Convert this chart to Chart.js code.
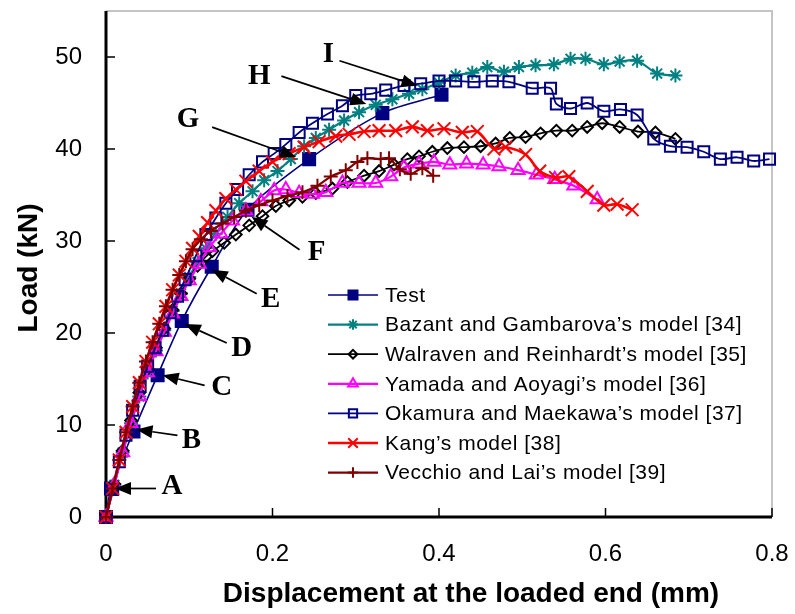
<!DOCTYPE html>
<html>
<head>
<meta charset="utf-8">
<script src="https://cdn.jsdelivr.net/npm/chart.js@4.4.1/dist/chart.umd.min.js"></script>
<style>
  html, body { margin: 0; padding: 0; background: #fff; }
  #wrap { width: 795px; height: 614px; }
</style>
</head>
<body>
<div id="wrap"><canvas id="chart" width="795" height="614"></canvas></div>
<script>
// tick labels
const xTicks = [0, 0.2, 0.4, 0.6, 0.8];
const yTicks = [0, 10, 20, 30, 40, 50];

// Test (A..I)
const testX = [0, 0.006, 0.033, 0.062, 0.091, 0.127, 0.170, 0.244, 0.332, 0.403];
const testY = [0, 3.1, 9.3, 15.4, 21.3, 27.2, 33.4, 38.9, 43.9, 45.9];

// Bazant and Gambarova
const bazantX = [0, 0.01, 0.02, 0.03, 0.04, 0.05, 0.06, 0.07, 0.08, 0.09, 0.1, 0.11, 0.12, 0.132, 0.146, 0.16, 0.176, 0.19, 0.206, 0.222, 0.238, 0.252, 0.268, 0.286, 0.304, 0.324, 0.344, 0.364, 0.38, 0.4, 0.42, 0.44, 0.458, 0.478, 0.496, 0.516, 0.538, 0.558, 0.576, 0.598, 0.617, 0.638, 0.662, 0.684];
const bazantY = [0, 3.5, 7.0, 10.2, 13.1, 15.7, 18.1, 20.3, 22.4, 24.3, 26.1, 27.7, 29.2, 30.8, 32.6, 34.1, 35.4, 36.6, 37.6, 38.9, 40.3, 41.2, 42.1, 43.1, 44.0, 44.8, 45.4, 46.0, 46.5, 47.2, 48.0, 48.3, 48.9, 48.4, 48.9, 49.1, 49.2, 49.8, 49.8, 49.2, 49.5, 49.6, 48.2, 48.0];

// Walraven and Reinhardt
const walravenX = [0, 0.01, 0.02, 0.03, 0.04, 0.05, 0.06, 0.07, 0.08, 0.09, 0.1, 0.11, 0.12, 0.128, 0.142, 0.156, 0.172, 0.188, 0.204, 0.22, 0.236, 0.252, 0.272, 0.29, 0.31, 0.328, 0.346, 0.362, 0.376, 0.392, 0.41, 0.43, 0.45, 0.468, 0.485, 0.504, 0.522, 0.541, 0.56, 0.578, 0.596, 0.617, 0.639, 0.66, 0.684];
const walravenY = [0, 3.6, 7.2, 10.5, 13.5, 16.1, 18.4, 20.5, 22.5, 24.3, 25.9, 27.3, 28.3, 28.9, 29.8, 30.7, 31.7, 32.7, 33.8, 34.4, 34.8, 35.2, 35.7, 36.4, 37.1, 37.6, 38.3, 38.9, 39.2, 39.7, 40.1, 40.2, 40.3, 40.6, 41.2, 41.3, 41.7, 42.0, 42.0, 42.4, 42.8, 42.4, 41.9, 41.8, 41.1];

// Yamada and Aoyagi
const yamadaX = [0, 0.01, 0.02, 0.03, 0.04, 0.05, 0.06, 0.07, 0.08, 0.09, 0.1, 0.112, 0.124, 0.138, 0.152, 0.168, 0.186, 0.202, 0.216, 0.232, 0.248, 0.264, 0.284, 0.304, 0.324, 0.342, 0.358, 0.376, 0.394, 0.413, 0.433, 0.453, 0.472, 0.495, 0.517, 0.539, 0.562, 0.59];
const yamadaY = [0, 3.5, 7.0, 10.2, 13.1, 15.7, 18.0, 20.1, 22.1, 24.0, 25.7, 27.5, 29.3, 30.8, 32.2, 33.3, 34.3, 35.5, 35.6, 35.2, 35.1, 35.3, 36.3, 36.3, 36.3, 37.0, 38.0, 38.4, 38.6, 38.3, 38.4, 38.3, 38.1, 37.7, 37.2, 36.7, 36.0, 34.5];

// Okamura and Maekawa
const okamuraX = [0, 0.008, 0.016, 0.024, 0.032, 0.041, 0.05, 0.059, 0.068, 0.077, 0.086, 0.095, 0.108, 0.12, 0.132, 0.144, 0.158, 0.172, 0.188, 0.202, 0.216, 0.232, 0.248, 0.266, 0.284, 0.3, 0.318, 0.336, 0.358, 0.378, 0.4, 0.42, 0.442, 0.464, 0.484, 0.512, 0.534, 0.541, 0.558, 0.578, 0.598, 0.618, 0.638, 0.658, 0.678, 0.698, 0.718, 0.738, 0.758, 0.778, 0.797];
const okamuraY = [0, 3.0, 6.0, 8.9, 11.6, 14.2, 16.4, 18.4, 20.3, 22.2, 24.0, 25.8, 28.4, 30.7, 32.5, 34.1, 35.6, 37.2, 38.6, 39.5, 40.5, 41.8, 42.8, 43.8, 44.7, 45.8, 46.0, 46.4, 46.9, 47.1, 47.4, 47.4, 47.3, 47.4, 47.3, 46.6, 46.6, 44.9, 44.4, 45.0, 44.1, 44.3, 43.7, 41.1, 40.3, 40.2, 39.7, 38.9, 39.1, 38.7, 38.9];

// Kang
const kangX = [0, 0.008, 0.016, 0.024, 0.032, 0.04, 0.048, 0.056, 0.064, 0.072, 0.08, 0.088, 0.096, 0.104, 0.112, 0.122, 0.132, 0.144, 0.156, 0.168, 0.184, 0.2, 0.22, 0.238, 0.256, 0.276, 0.292, 0.31, 0.328, 0.348, 0.368, 0.386, 0.406, 0.428, 0.446, 0.466, 0.48, 0.504, 0.521, 0.54, 0.556, 0.578, 0.598, 0.614, 0.632];
const kangY = [0, 3.1, 6.2, 9.2, 12.0, 14.6, 16.9, 19.0, 21.0, 22.9, 24.7, 26.3, 27.8, 29.2, 30.5, 32.0, 33.3, 34.6, 35.6, 36.5, 37.6, 38.6, 39.5, 40.2, 40.8, 41.4, 41.6, 41.9, 42.0, 42.0, 42.4, 42.0, 42.2, 41.8, 41.9, 40.0, 40.2, 39.4, 37.6, 36.9, 37.0, 35.4, 33.9, 34.0, 33.4];

// Vecchio and Lai
const vecchioX = [0, 0.008, 0.016, 0.024, 0.032, 0.04, 0.048, 0.056, 0.064, 0.072, 0.08, 0.088, 0.096, 0.104, 0.114, 0.126, 0.14, 0.154, 0.168, 0.184, 0.2, 0.218, 0.236, 0.254, 0.27, 0.288, 0.302, 0.314, 0.33, 0.34, 0.353, 0.366, 0.38, 0.393];
const vecchioY = [0, 3.1, 6.2, 9.2, 12.0, 14.6, 16.9, 19.0, 21.0, 22.9, 24.7, 26.3, 27.8, 29.1, 30.2, 31.1, 31.9, 32.6, 33.3, 33.9, 34.4, 34.9, 35.3, 36.0, 37.0, 37.7, 38.6, 39.0, 38.9, 39.0, 37.8, 37.3, 37.9, 37.1];

// labels on the Test curve (points 1..9)
const noteLabels = ['A', 'B', 'C', 'D', 'E', 'F', 'G', 'H', 'I'];

const xTitle = 'Displacement at the loaded end (mm)';
const yTitle = 'Load (kN)';

const SANS = '"Liberation Sans", Arial, sans-serif';
const SERIF = '"Liberation Serif", "Times New Roman", serif';

// px offsets from the Test point: arrow tip, arrow tail, letter centre
const noteOffsets = [
  [[4, 0], [45, 0], [61, -2]],
  [[3, -2], [44, 4], [58, 9]],
  [[5, 0], [47, 10], [64, 12]],
  [[3, 3], [45, 22], [60, 27]],
  [[0, 3], [45, 27], [59, 33]],
  [[4, 7], [52, 40], [69, 43]],
  [[-13, -2], [-97, -32], [-121, -40]],
  [[-16, -9], [-101, -37], [-123, -37]],
  [[-24, -9], [-102, -34], [-113, -40]]
];

const series = [
  { label: 'Test', xs: testX, ys: testY, color: '#000080', fill: '#000080', style: 'rect', radius: 8.5, width: 1.6 },
  { label: 'Bazant and Gambarova\u2019s model [34]', xs: bazantX, ys: bazantY, color: '#008080', fill: 'rgba(0,0,0,0)', style: 'star', radius: 7, width: 2.2 },
  { label: 'Walraven and Reinhardt\u2019s model [35]', xs: walravenX, ys: walravenY, color: '#000000', fill: 'rgba(0,0,0,0)', style: 'rectRot', radius: 5.8, width: 1.8 },
  { label: 'Yamada and Aoyagi\u2019s model [36]', xs: yamadaX, ys: yamadaY, color: '#FF00FF', fill: 'rgba(0,0,0,0)', style: 'triangle', radius: 7.5, width: 2.2 },
  { label: 'Okamura and Maekawa\u2019s model [37]', xs: okamuraX, ys: okamuraY, color: '#000080', fill: 'rgba(0,0,0,0)', style: 'rect', radius: 7.8, width: 1.8 },
  { label: 'Kang\u2019s model [38]', xs: kangX, ys: kangY, color: '#FF0000', fill: 'rgba(0,0,0,0)', style: 'crossRot', radius: 9, width: 2.6 },
  { label: 'Vecchio and Lai\u2019s model [39]', xs: vecchioX, ys: vecchioY, color: '#800000', fill: 'rgba(0,0,0,0)', style: 'cross', radius: 7, width: 2.2 }
];

function toPoints(xs, ys) {
  return xs.map((x, i) => ({ x: x, y: ys[i] }));
}

// axis frame and inward tick marks
const framePlugin = {
  id: 'frame',
  beforeDatasetsDraw(chart) {
    const { ctx, chartArea: a, scales } = chart;
    ctx.save();
    ctx.strokeStyle = '#c4c4c4';
    ctx.lineWidth = 2;
    ctx.beginPath();
    ctx.moveTo(a.left, a.top);
    ctx.lineTo(a.right, a.top);
    ctx.lineTo(a.right, a.bottom);
    ctx.stroke();

    ctx.strokeStyle = '#000';
    ctx.lineWidth = 1.5;
    ctx.beginPath();
    xTicks.forEach(v => {
      const px = scales.x.getPixelForValue(v);
      ctx.moveTo(px, a.bottom);
      ctx.lineTo(px, a.bottom - 9);
    });
    yTicks.forEach(v => {
      const py = scales.y.getPixelForValue(v);
      ctx.moveTo(a.left, py);
      ctx.lineTo(a.left + 9, py);
    });
    ctx.stroke();

    ctx.lineWidth = 3;
    ctx.beginPath();
    ctx.moveTo(a.left, a.top);
    ctx.lineTo(a.left, a.bottom);
    ctx.lineTo(a.right, a.bottom);
    ctx.stroke();
    ctx.restore();
  },
  // axis titles (the x title sits right of the plot centre, as in the original)
  afterDraw(chart) {
    const { ctx, chartArea: a } = chart;
    ctx.save();
    ctx.fillStyle = '#000';
    ctx.font = 'bold 28px ' + SANS;
    ctx.textAlign = 'center';
    ctx.textBaseline = 'middle';
    ctx.fillText(xTitle, (a.left + a.right) / 2 + 32, 594);
    ctx.translate(29, 268);
    ctx.rotate(-Math.PI / 2);
    ctx.fillText(yTitle, 0, 0);
    ctx.restore();
  }
};

// letters A..I with arrows pointing at the Test points
const notePlugin = {
  id: 'notes',
  afterDatasetsDraw(chart) {
    const ctx = chart.ctx;
    const meta = chart.getDatasetMeta(0);
    ctx.save();
    ctx.strokeStyle = '#000';
    ctx.fillStyle = '#000';
    ctx.lineWidth = 1.7;
    ctx.font = 'bold 29px ' + SERIF;
    ctx.textAlign = 'center';
    ctx.textBaseline = 'middle';
    noteLabels.forEach((txt, i) => {
      const p = meta.data[i + 1];
      const [tip, tail, lab] = noteOffsets[i];
      const tx = p.x + tip[0], ty = p.y + tip[1];
      const sx = p.x + tail[0], sy = p.y + tail[1];
      const ang = Math.atan2(ty - sy, tx - sx);
      const len = 16, half = 6.5;
      const bx = tx - len * Math.cos(ang), by = ty - len * Math.sin(ang);
      ctx.beginPath();
      ctx.moveTo(sx, sy);
      ctx.lineTo(bx, by);
      ctx.stroke();
      ctx.beginPath();
      ctx.moveTo(tx, ty);
      ctx.lineTo(bx + half * Math.sin(ang), by - half * Math.cos(ang));
      ctx.lineTo(bx - half * Math.sin(ang), by + half * Math.cos(ang));
      ctx.closePath();
      ctx.fill();
      ctx.fillText(txt, p.x + lab[0], p.y + lab[1]);
    });
    ctx.restore();
  }
};

// legend inside the plot, lower right
const legendPlugin = {
  id: 'innerLegend',
  afterDraw(chart) {
    const ctx = chart.ctx;
    const left = 328, top = 295, step = 29.6;
    ctx.save();
    ctx.font = '21px ' + SANS;
    ctx.letterSpacing = '0.5px';
    ctx.textAlign = 'left';
    ctx.textBaseline = 'middle';
    chart.data.datasets.forEach((ds, i) => {
      const yy = top + i * step;
      ctx.strokeStyle = ds.borderColor;
      ctx.lineWidth = ds.borderWidth;
      ctx.beginPath();
      ctx.moveTo(left, yy);
      ctx.lineTo(left + 50, yy);
      ctx.stroke();
      if (Chart.helpers && Chart.helpers.drawPoint) {
        ctx.fillStyle = ds.pointBackgroundColor;
        ctx.strokeStyle = ds.pointBorderColor;
        ctx.lineWidth = ds.pointBorderWidth;
        Chart.helpers.drawPoint(ctx, {
          pointStyle: ds.pointStyle,
          radius: ds.pointRadius * 0.75,
          rotation: 0,
          borderWidth: ds.pointBorderWidth
        }, left + 25, yy);
      }
      ctx.fillStyle = '#000';
      ctx.fillText(ds.label, left + 57, yy + 1);
    });
    ctx.restore();
  }
};

const datasets = series.map((s, i) => ({
  label: s.label,
  data: toPoints(s.xs, s.ys),
  showLine: true,
  tension: 0.3,
  borderColor: s.color,
  borderWidth: s.width,
  backgroundColor: s.fill,
  pointStyle: s.style,
  pointRadius: s.radius,
  pointBorderColor: s.color,
  pointBackgroundColor: s.fill,
  pointBorderWidth: 2,
  pointHoverRadius: s.radius,
  clip: false,
  order: series.length - 1 - i   // later series drawn on top
}));

new Chart(document.getElementById('chart'), {
  type: 'scatter',
  data: { datasets: datasets },
  options: {
    responsive: false,
    animation: false,
    devicePixelRatio: 1,
    layout: { padding: { top: 8, right: 23, left: 0, bottom: 0 } },
    plugins: {
      legend: { display: false },
      tooltip: { enabled: false }
    },
    scales: {
      x: {
        type: 'linear',
        min: 0,
        max: 0.8,
        afterBuildTicks: s => { s.ticks = xTicks.map(v => ({ value: v })); },
        afterFit: s => {
          s.height = 97;
          s.paddingLeft = 0;
          s.paddingRight = 0;
        },
        grid: { display: false, drawTicks: false },
        border: { display: false },
        ticks: {
          color: '#000',
          padding: 23,
          font: { family: SANS, size: 24 },
          callback: v => String(v)
        }
      },
      y: {
        type: 'linear',
        min: 0,
        max: 55,
        afterBuildTicks: s => { s.ticks = yTicks.map(v => ({ value: v })); },
        afterFit: s => {
          s.width = 106;
          s.paddingTop = 0;
          s.paddingBottom = 0;
        },
        grid: { display: false, drawTicks: false },
        border: { display: false },
        ticks: {
          color: '#000',
          padding: 24,
          font: { family: SANS, size: 24 },
          callback: v => String(v)
        }
      }
    }
  },
  plugins: [framePlugin, notePlugin, legendPlugin]
});
</script>
</body>
</html>
